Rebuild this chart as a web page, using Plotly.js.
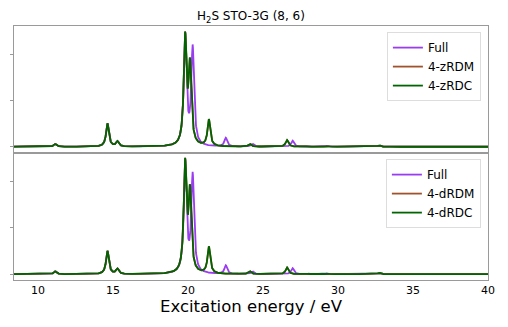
<!DOCTYPE html>
<html>
<head>
<meta charset="utf-8">
<script src="https://cdn.plot.ly/plotly-3.0.1.min.js"></script>
<style>html,body{margin:0;padding:0;background:#fff;}#chart{width:508px;height:327px;}</style>
</head>
<body>
<div id="chart"></div>
<script>
// Peak (stick) data: excitation energies (eV) and intensities (arb. units)
const fullEnergies = [11.15, 14.63, 15.29, 19.81, 20.31, 22.52, 24.30, 26.97, 28.04, 29.26, 32.76];
const fullIntensities = [0.06, 0.50, 0.11, 2.39, 2.10, 0.185, 0.06, 0.13, 0.01, 0.02, 0.03];

const zEnergies = [11.15, 14.63, 15.29, 19.81, 20.13, 21.39, 24.12, 26.60, 28.04, 29.26, 32.76];
const zRDMIntensities = [0.06, 0.50, 0.11, 2.31, 1.68, 0.576, 0.06, 0.145, 0.01, 0.02, 0.03];
const zRDCIntensities = [0.06, 0.50, 0.11, 2.31, 1.68, 0.576, 0.06, 0.145, 0.01, 0.02, 0.03];

const dEnergies = [11.15, 14.63, 15.29, 19.81, 20.13, 21.39, 24.12, 26.60, 28.04, 29.26, 32.76];
const dRDMIntensities = [0.06, 0.50, 0.11, 2.33, 1.69, 0.576, 0.06, 0.145, 0.01, 0.02, 0.03];
const dRDCIntensities = [0.06, 0.50, 0.11, 2.33, 1.69, 0.576, 0.06, 0.145, 0.01, 0.02, 0.03];

const xTicks = [10, 15, 20, 25, 30, 35, 40];
const broadening = 0.11; // Lorentzian half width (eV)

// Evaluation grid for the broadened spectrum
const grid = [];
for (let e = 8.4; e <= 40.0001; e += 0.01) grid.push(+e.toFixed(3));

function spectrum(energies, intens) {
  const g2 = broadening * broadening;
  return grid.map(x => {
    let s = 0;
    for (let i = 0; i < energies.length; i++) {
      const d = x - energies[i];
      s += intens[i] * g2 / (d * d + g2);
    }
    return s;
  });
}

const cFull = '#9a3cf0', cRDM = '#a0522d', cRDC = '#006400';
const lw = 1.8;

function tr(name, energies, intens, color, xa, ya, leg) {
  return {x: grid, y: spectrum(energies, intens), type: 'scatter', mode: 'lines', name: name,
    line: {color: color, width: lw}, xaxis: xa, yaxis: ya, legend: leg};
}

const data = [
  tr('Full', fullEnergies, fullIntensities, cFull, 'x2', 'y2', 'legend'),
  tr('4-zRDM', zEnergies, zRDMIntensities, cRDM, 'x2', 'y2', 'legend'),
  tr('4-zRDC', zEnergies, zRDCIntensities, cRDC, 'x2', 'y2', 'legend'),
  tr('Full', fullEnergies, fullIntensities, cFull, 'x', 'y', 'legend2'),
  tr('4-dRDM', dEnergies, dRDMIntensities, cRDM, 'x', 'y', 'legend2'),
  tr('4-dRDC', dEnergies, dRDCIntensities, cRDC, 'x', 'y', 'legend2')
];

const frame = {showline: true, mirror: true, linecolor: '#9a9a9a', linewidth: 1.2, showgrid: false, zeroline: false};
const font = 'DejaVu Sans, sans-serif';
const legendStyle = {x: 0.985, xanchor: 'right', yanchor: 'top', bgcolor: '#ffffff', bordercolor: '#dddddd', borderwidth: 1,
  font: {family: font, size: 12, color: '#000'}, tracegroupgap: 0, itemwidth: 30};

const layout = {
  width: 508, height: 327,
  margin: {l: 14, r: 20, t: 26, b: 47},
  paper_bgcolor: '#fff', plot_bgcolor: '#fff',
  font: {family: font, color: '#000'},
  showlegend: true,
  title: {text: 'H<sub>2</sub>S STO-3G (8, 6)', font: {family: font, size: 12, color: '#000'},
    x: 0.5, xref: 'paper', y: 1 - 16 / 327, yref: 'container', yanchor: 'middle'},
  xaxis: Object.assign({}, frame, {domain: [0, 1], range: [8.4, 40], anchor: 'y', tickvals: xTicks, ticks: '',
    tickfont: {family: font, size: 11, color: '#000'},
    title: {text: 'Excitation energy / eV', font: {family: font, size: 16.5, color: '#000'}, standoff: 2}}),
  xaxis2: Object.assign({}, frame, {domain: [0, 1], range: [8.4, 40], anchor: 'y2', matches: 'x', showticklabels: false, ticks: '', tickvals: xTicks}),
  yaxis: Object.assign({}, frame, {domain: [0, 0.5], range: [-0.125, 2.615], anchor: 'x', showticklabels: false,
    ticks: 'outside', ticklen: 3, tickcolor: '#9a9a9a', tickvals: [0, 1, 2]}),
  yaxis2: Object.assign({}, frame, {domain: [0.5, 1], range: [-0.135, 2.61], anchor: 'x2', showticklabels: false,
    ticks: 'outside', ticklen: 3, tickcolor: '#9a9a9a', tickvals: [0, 1, 2]}),
  legend: Object.assign({}, legendStyle, {y: 0.976}),
  legend2: Object.assign({}, legendStyle, {y: 0.476})
};

Plotly.newPlot('chart', data, layout, {staticPlot: true, displayModeBar: false});
</script>
</body>
</html>
